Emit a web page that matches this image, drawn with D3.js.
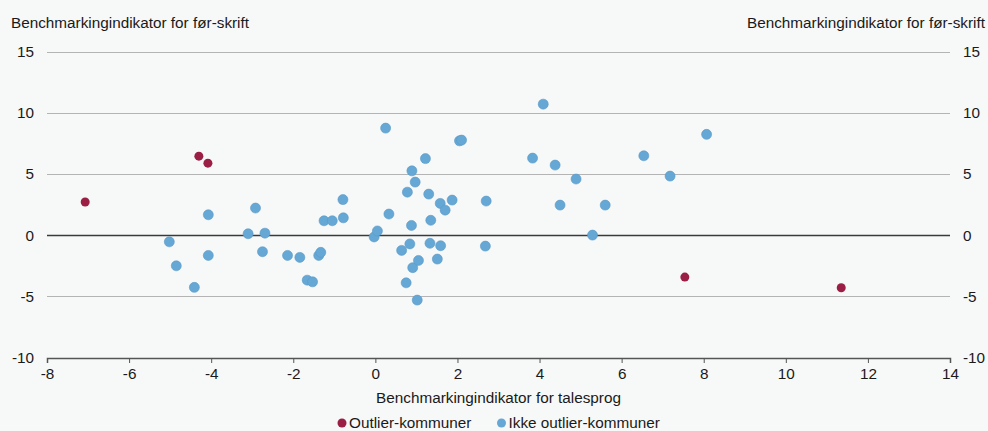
<!DOCTYPE html>
<html><head><meta charset="utf-8">
<script src="https://cdn.jsdelivr.net/npm/d3@7"></script>
<style>
html,body{margin:0;padding:0;background:#f7f8f8;}
text{font-family:"Liberation Sans",Arial,Helvetica,sans-serif;fill:#1a1a1a;}
</style></head>
<body><svg id="c" width="988" height="431"></svg>
<script>
const yTitle = "Benchmarkingindikator for før-skrift";
const xTitle = "Benchmarkingindikator for talesprog";
const seriesNames = ["Outlier-kommuner", "Ikke outlier-kommuner"];
const xTicks = [-8,-6,-4,-2,0,2,4,6,8,10,12,14];
const yTicks = [-10,-5,0,5,10,15];

const outlierX = [-7.07,-4.30,-4.08,7.54,11.35];
const outlierY = [2.70,6.45,5.88,-3.43,-4.30];

const otherX = [-5.02,-4.85,-4.41,-4.07,-4.07,-3.10,-2.92,-2.69,-2.75,-2.14,-1.84,-1.66,-1.53,-1.38,-1.33,-1.25,-1.05,-0.79,-0.78,-0.03,0.05,0.25,0.33,0.64,0.75,0.78,0.84,0.88,0.89,0.91,0.97,1.02,1.05,1.22,1.30,1.33,1.35,1.51,1.58,1.59,1.70,1.87,2.05,2.10,2.70,2.68,3.83,4.09,4.38,4.50,4.89,5.29,5.60,6.54,7.18,8.07];
const otherY = [-0.55,-2.51,-4.27,1.66,-1.66,0.11,2.21,0.16,-1.36,-1.66,-1.82,-3.68,-3.82,-1.66,-1.41,1.17,1.17,2.90,1.41,-0.15,0.34,8.74,1.72,-1.25,-3.90,3.51,-0.72,0.79,5.25,-2.66,4.33,-5.31,-2.07,6.25,3.35,-0.67,1.21,-1.96,2.59,-0.87,2.04,2.86,7.70,7.76,2.78,-0.90,6.29,10.70,5.72,2.45,4.58,0.00,2.45,6.48,4.82,8.23];

const colors = ["#9b1f45", "#65a8d6"];
const FS = "15.3px";

const svg = d3.select("#c");
const L = 47, R = 950, T = 51.5, B = 357.5;
const x = d3.scaleLinear().domain([-8,14]).range([L,R]);
const y = d3.scaleLinear().domain([-10,15]).range([B,T]);
const fmt = d => d<0 ? "-"+Math.abs(d) : String(d);

// gridlines
svg.append("g").selectAll("line").data(yTicks.filter(d=>d!==-10 && d!==0)).join("line")
  .attr("x1",L).attr("x2",R)
  .attr("y1",d=>Math.round(y(d))+0.5).attr("y2",d=>Math.round(y(d))+0.5)
  .attr("stroke","#b4b4b4").attr("stroke-width",1);
// zero line
svg.append("line").attr("x1",L).attr("x2",R)
  .attr("y1",Math.round(y(0))+0.5).attr("y2",Math.round(y(0))+0.5)
  .attr("stroke","#3a3a3a").attr("stroke-width",1.3);

// x axis
const xAxis = d3.axisBottom(x).tickValues(xTicks).tickSize(5).tickPadding(5).tickFormat(fmt);
const gx = svg.append("g").attr("transform",`translate(0,${Math.round(B)})`).call(xAxis);
gx.select(".domain").attr("stroke","#555").attr("stroke-width",1.5);
gx.selectAll(".tick line").attr("stroke","#555");
gx.selectAll("text").style("font-size",FS).attr("fill","#1a1a1a")
  .style("font-family","'Liberation Sans',Arial,sans-serif");

// y axes (labels only)
const yl = d3.axisLeft(y).tickValues(yTicks).tickSize(0).tickPadding(13).tickFormat(fmt);
const gyl = svg.append("g").attr("transform",`translate(${L},0)`).call(yl);
gyl.select(".domain").remove();
gyl.selectAll("text").style("font-size",FS).attr("fill","#1a1a1a").style("font-family","'Liberation Sans',Arial,sans-serif");
const yr = d3.axisRight(y).tickValues(yTicks).tickSize(0).tickPadding(13).tickFormat(fmt);
const gyr = svg.append("g").attr("transform",`translate(${R},0)`).call(yr);
gyr.select(".domain").remove();
gyr.selectAll("text").style("font-size",FS).attr("fill","#1a1a1a").style("font-family","'Liberation Sans',Arial,sans-serif");

// titles
svg.append("text").attr("x",11).attr("y",28).style("font-size",FS).text(yTitle);
svg.append("text").attr("x",985).attr("y",28).attr("text-anchor","end").style("font-size",FS).text(yTitle);
svg.append("text").attr("x",(L+R)/2).attr("y",403).attr("text-anchor","middle").style("font-size",FS).text(xTitle);

// points
const other = otherX.map((v,i)=>({x:v,y:otherY[i]}));
const outl = outlierX.map((v,i)=>({x:v,y:outlierY[i]}));
svg.append("g").selectAll("circle").data(other).join("circle")
  .attr("cx",d=>x(d.x)).attr("cy",d=>y(d.y)).attr("r",5)
  .attr("fill",colors[1]).attr("stroke","#5a98c4").attr("stroke-width",0.6);
svg.append("g").selectAll("circle").data(outl).join("circle")
  .attr("cx",d=>x(d.x)).attr("cy",d=>y(d.y)).attr("r",4.5)
  .attr("fill",colors[0]);

// legend
const leg = [{name:seriesNames[0],c:colors[0],cx:342,tx:349},{name:seriesNames[1],c:colors[1],cx:501.5,tx:508.5}];
const lg = svg.append("g");
leg.forEach(d=>{
  lg.append("circle").attr("cx",d.cx).attr("cy",423).attr("r",4.5).attr("fill",d.c);
  lg.append("text").attr("x",d.tx).attr("y",428).style("font-size",FS).text(d.name);
});
</script></body></html>
